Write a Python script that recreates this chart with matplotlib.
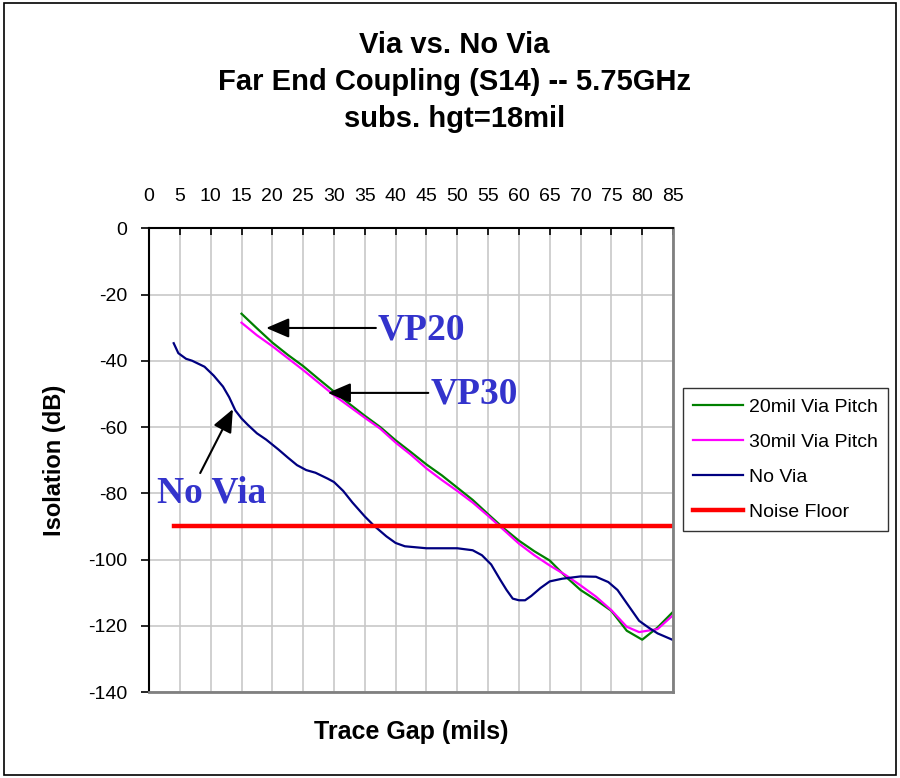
import matplotlib
matplotlib.use("Agg")
import matplotlib.pyplot as plt
from matplotlib.patches import Rectangle

plt.rcParams['font.family'] = ['Liberation Sans', 'DejaVu Sans']
plt.rcParams['axes.unicode_minus'] = False

# Trace gap (mils) vs isolation (dB)
gap_20 = [15, 17.5, 20, 22.5, 25, 27.5, 30, 32.5, 35, 37.5, 40, 42.5, 45, 47.5,
          50, 52.5, 55, 57.5, 60, 62.5, 65, 67.5, 70, 72.5, 75, 77.5, 80, 82.5, 85]
iso_20 = [-25.8, -30.2, -34.5, -38.2, -41.6, -45.5, -49.3, -53.0, -56.6, -60.0,
          -64.0, -67.6, -71.3, -74.6, -78.3, -82.0, -86.3, -90.5, -94.3, -97.5,
          -100.3, -105.0, -109.2, -112.2, -115.5, -121.5, -124.2, -120.5, -115.8]

gap_30 = [15, 17.5, 20, 22.5, 25, 27.5, 30, 32.5, 35, 37.5, 40, 42.5, 45, 47.5,
          50, 52.5, 55, 57.5, 60, 62.5, 65, 67.5, 70, 72.5, 75, 77.5, 79.5, 82.5, 85]
iso_30 = [-28.5, -32.3, -35.6, -39.2, -42.8, -46.6, -50.4, -53.8, -57.2, -60.5,
          -64.7, -68.4, -72.5, -76.0, -79.3, -82.8, -86.8, -91.0, -95.2, -98.7,
          -101.8, -104.6, -107.8, -111.2, -115.3, -120.3, -121.9, -121.0, -116.8]

gap_nv = [4, 4.75, 6, 7, 9, 10.5, 12, 13, 14, 15, 16, 17.5, 19, 21, 22.5, 24,
          25.5, 27, 29, 30, 31.5, 33, 35, 36.5, 38.5, 40, 41.5, 45, 50, 52.5,
          54, 55.5, 57, 58, 59, 60, 61, 62, 63.5, 65, 67, 70, 72.5, 74.5, 76,
          77.5, 79.5, 81, 82.5, 85]
iso_nv = [-34.7, -37.7, -39.4, -40.0, -41.8, -44.5, -47.8, -51.0, -55.0, -57.4,
          -59.3, -61.9, -63.8, -66.8, -69.2, -71.5, -73.0, -73.8, -75.6, -76.6,
          -79.3, -82.8, -87.0, -89.8, -93.0, -95.0, -96.0, -96.6, -96.6, -97.2,
          -98.7, -101.5, -106.2, -109.2, -111.8, -112.3, -112.3, -111.0, -108.6,
          -106.6, -105.8, -105.1, -105.2, -106.8, -109.2, -113.2, -118.5, -120.5,
          -122.3, -124.3]

gap_nf = [4, 85]
iso_nf = [-90, -90]

x_ticks = list(range(0, 86, 5))
y_ticks = list(range(-140, 1, 20))

fig = plt.figure(figsize=(9.0, 7.78), dpi=100)
fig.patches.append(Rectangle((0.004, 0.004), 0.992, 0.992, transform=fig.transFigure,
                             fill=False, edgecolor='black', linewidth=1.2))

ax = fig.add_axes([0.1656, 0.1105, 0.5822, 0.5961])
ax.set_xlim(0, 85)
ax.set_ylim(-140, 0)

ax.set_xticks(x_ticks)
ax.set_yticks(y_ticks)
ax.grid(True, color='#c8c8c8', linewidth=1.2)
ax.set_axisbelow(True)

ax.xaxis.set_ticks_position('top')
ax.xaxis.set_label_position('bottom')
ax.tick_params(axis='x', direction='in', length=5, width=1.2, pad=17,
               labelsize=14, top=True, bottom=False)
ax.tick_params(axis='y', direction='out', length=6, width=1.2, pad=9.5, labelsize=14)

for side in ('top', 'left'):
    ax.spines[side].set_color('black')
    ax.spines[side].set_linewidth(1.5)
for side in ('right', 'bottom'):
    ax.spines[side].set_color('#808080')
    ax.spines[side].set_linewidth(2)

ax.plot(gap_20, iso_20, color='#008000', linewidth=1.6, label='20mil Via Pitch')
ax.plot(gap_30, iso_30, color='#ff00ff', linewidth=1.6, label='30mil Via Pitch')
ax.plot(gap_nv, iso_nv, color='#000080', linewidth=1.6, label='No Via')
ax.plot(gap_nf, iso_nf, color='#ff0000', linewidth=3.2, label='Noise Floor')

ax.set_xlabel('Trace Gap (mils)', fontsize=18, fontweight='bold', labelpad=20)
ax.set_ylabel('Isolation (dB)', fontsize=17, fontweight='bold', labelpad=16)

fig.text(0.505, 0.8946, 'Via vs. No Via\nFar End Coupling (S14) -- 5.75GHz\nsubs. hgt=18mil',
         ha='center', va='center', fontsize=21, fontweight='bold', linespacing=1.4)

# Callouts
ann_color = '#3333cc'
arrow_kw = dict(arrowstyle='-|>,head_length=1.4,head_width=0.6', color='black',
                linewidth=1.5, shrinkA=0, shrinkB=0)
serif = ['Liberation Serif', 'DejaVu Serif']
ax.annotate('', xy=(19.0, -30.1), xytext=(36.8, -30.1), arrowprops=arrow_kw)
ax.text(37.1, -30.6, 'VP20', color=ann_color, fontsize=27, fontweight='bold',
        family=serif, ha='left', va='center')
ax.annotate('', xy=(29.0, -49.7), xytext=(45.3, -49.7), arrowprops=arrow_kw)
ax.text(45.6, -49.9, 'VP30', color=ann_color, fontsize=27, fontweight='bold',
        family=serif, ha='left', va='center')
ax.annotate('', xy=(13.6, -54.6), xytext=(8.3, -73.9), arrowprops=arrow_kw)
ax.text(1.3, -79.8, 'No Via', color=ann_color, fontsize=27, fontweight='bold',
        family=serif, ha='left', va='center')

leg = fig.legend(loc='upper left', bbox_to_anchor=(0.759, 0.501), borderaxespad=0,
                 fontsize=14, frameon=True, fancybox=False, edgecolor='black',
                 handlelength=2.6, labelspacing=0.9, borderpad=0.5,
                 handletextpad=0.3)
leg.get_frame().set_linewidth(1.0)

fig.savefig('out.png', dpi=100)
